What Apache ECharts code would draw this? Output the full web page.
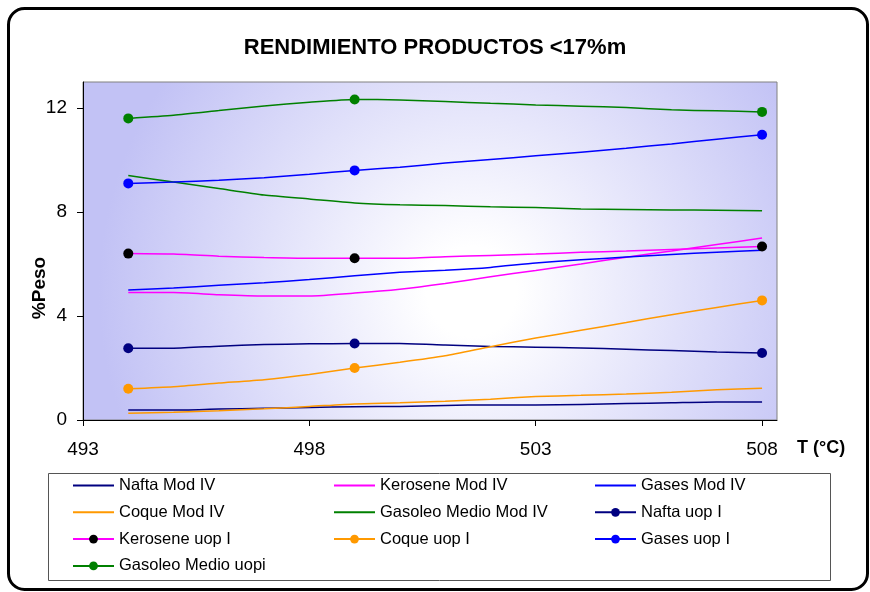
<!DOCTYPE html>
<html>
<head>
<meta charset="utf-8">
<script src="https://cdn.jsdelivr.net/npm/echarts@6/dist/echarts.min.js"></script>
<style>
  html, body { margin: 0; padding: 0; background: #ffffff; }
  #chart { width: 870px; height: 592px; }
</style>
</head>
<body>
<div id="chart"></div>
<script>
// Temperatures (°C) of the sampled points
const temps = [494, 495, 496, 497, 498, 499, 500, 501, 502, 503, 504, 505, 506, 507, 508];
// Temperatures where the uop I series show a marker
const markerTemps = [494, 499, 508];

// Yields (% weight) – Mod IV model
const naftaModIV    = [0.38, 0.38, 0.42, 0.45, 0.48, 0.51, 0.52, 0.56, 0.58, 0.58, 0.60, 0.63, 0.66, 0.69, 0.69];
const keroseneModIV = [4.90, 4.90, 4.82, 4.77, 4.77, 4.88, 5.03, 5.25, 5.51, 5.75, 6.00, 6.26, 6.50, 6.75, 7.00];
const gasesModIV    = [5.00, 5.08, 5.18, 5.28, 5.40, 5.55, 5.68, 5.76, 5.87, 6.04, 6.16, 6.27, 6.37, 6.45, 6.53];
const coqueModIV    = [0.26, 0.30, 0.36, 0.43, 0.52, 0.62, 0.66, 0.72, 0.80, 0.90, 0.95, 1.00, 1.07, 1.16, 1.22];
const gasoleoModIV  = [9.40, 9.15, 8.90, 8.65, 8.50, 8.35, 8.28, 8.25, 8.20, 8.17, 8.12, 8.10, 8.08, 8.07, 8.05];

// Yields (% weight) – uop I model
const naftaUop      = [2.76, 2.76, 2.84, 2.90, 2.93, 2.94, 2.94, 2.88, 2.83, 2.80, 2.77, 2.72, 2.67, 2.62, 2.58];
const keroseneUop   = [6.40, 6.38, 6.30, 6.25, 6.22, 6.22, 6.22, 6.28, 6.33, 6.38, 6.45, 6.50, 6.56, 6.62, 6.67];
const coqueUop      = [1.20, 1.28, 1.42, 1.55, 1.75, 2.00, 2.22, 2.47, 2.82, 3.15, 3.45, 3.75, 4.05, 4.33, 4.60];
const gasesUop      = [9.10, 9.15, 9.22, 9.32, 9.45, 9.60, 9.72, 9.88, 10.02, 10.16, 10.30, 10.45, 10.62, 10.80, 10.97];
const gasoleoUop    = [11.60, 11.72, 11.90, 12.08, 12.22, 12.33, 12.31, 12.25, 12.18, 12.12, 12.07, 12.02, 11.93, 11.89, 11.85];

// Axis ticks
const xTicks = [493, 498, 503, 508];
const yTicks = [0, 4, 8, 12];

const FONT = '"Liberation Sans", Arial, sans-serif';

const pairs = vals => temps.map((t, i) => [t, vals[i]]);

function modSeries(name, vals, color) {
  return {
    name, type: 'line', data: pairs(vals),
    symbol: 'none', smooth: 0.2,
    lineStyle: { color, width: 1.5 },
    itemStyle: { color },
    emphasis: { disabled: true }
  };
}
function uopSeries(name, vals, lineColor, markColor) {
  return {
    name, type: 'line', data: pairs(vals),
    symbol: 'circle', showSymbol: true, showAllSymbol: true,
    symbolSize: v => (markerTemps.indexOf(v[0]) >= 0 ? 10 : 0),
    smooth: 0.2,
    lineStyle: { color: lineColor, width: 1.5 },
    itemStyle: { color: markColor },
    emphasis: { disabled: true }
  };
}

const series = [
  modSeries('Nafta Mod IV', naftaModIV, '#000080'),
  modSeries('Kerosene Mod IV', keroseneModIV, '#FF00FF'),
  modSeries('Gases Mod IV', gasesModIV, '#0000FF'),
  modSeries('Coque Mod IV', coqueModIV, '#FF9900'),
  modSeries('Gasoleo Medio Mod IV', gasoleoModIV, '#008000'),
  uopSeries('Nafta uop I', naftaUop, '#000080', '#000080'),
  uopSeries('Kerosene uop I', keroseneUop, '#FF00FF', '#000000'),
  uopSeries('Coque uop I', coqueUop, '#FF9900', '#FF9900'),
  uopSeries('Gases uop I', gasesUop, '#0000FF', '#0000FF'),
  uopSeries('Gasoleo Medio uopi', gasoleoUop, '#008000', '#008000')
];

// Line-only legend entries have no dot on the sample line
const plainLegend = name => (name.indexOf('Mod IV') >= 0
  ? { name, itemStyle: { color: 'rgba(0,0,0,0)', borderWidth: 0 } }
  : name);

function legendColumn(left, names) {
  return {
    orient: 'vertical', left, top: 477, padding: 0,
    itemWidth: 41, itemHeight: 11, itemGap: 9.8,
    textStyle: { fontFamily: FONT, fontSize: 16.5, color: '#000', lineHeight: 16 },
    data: names.map(plainLegend), selectedMode: false
  };
}

const chart = echarts.init(document.getElementById('chart'), null, { renderer: 'canvas' });
chart.setOption({
  animation: false,
  backgroundColor: '#ffffff',
  title: {
    text: 'RENDIMIENTO PRODUCTOS <17%m',
    left: 'center', top: 32,
    textStyle: { fontFamily: FONT, fontSize: 22, fontWeight: 'bold', color: '#000' }
  },
  grid: {
    left: 83, top: 82, right: 93, bottom: 172,
    show: true, borderColor: '#808080', borderWidth: 1,
    backgroundColor: {
      type: 'radial', x: 0.56, y: 0.62, r: 1.1,
      colorStops: [
        { offset: 0, color: '#FFFFFF' },
        { offset: 0.12, color: '#FFFFFF' },
        { offset: 1, color: '#C2C2F5' }
      ]
    }
  },
  xAxis: {
    type: 'value', min: 493, max: 508.33, interval: 5,
    axisLine: { show: true, lineStyle: { color: '#000', width: 1 } },
    axisTick: { show: true, inside: false, length: 6, customValues: xTicks, lineStyle: { color: '#000', width: 1 } },
    axisLabel: { customValues: xTicks, margin: 20, fontFamily: FONT, fontSize: 19, color: '#000' },
    splitLine: { show: false }
  },
  yAxis: {
    type: 'value', min: 0, max: 13, interval: 4,
    axisLine: { show: true, lineStyle: { color: '#000', width: 1 } },
    axisTick: { show: true, inside: false, length: 6, customValues: yTicks, lineStyle: { color: '#000', width: 1 } },
    axisLabel: { customValues: yTicks, margin: 16, fontFamily: FONT, fontSize: 19, color: '#000' },
    splitLine: { show: false }
  },
  legend: [
    legendColumn(72, ['Nafta Mod IV', 'Coque Mod IV', 'Kerosene uop I', 'Gasoleo Medio uopi']),
    legendColumn(333, ['Kerosene Mod IV', 'Gasoleo Medio Mod IV', 'Coque uop I']),
    legendColumn(594, ['Gases Mod IV', 'Nafta uop I', 'Gases uop I'])
  ],
  graphic: [
    {
      type: 'rect', silent: true, z: -1,
      shape: { x: 8.5, y: 8.5, width: 859, height: 581, r: 16 },
      style: { fill: 'none', stroke: '#000', lineWidth: 3 }
    },
    {
      type: 'rect', silent: true,
      shape: { x: 48.5, y: 473.5, width: 782, height: 107 },
      style: { fill: 'none', stroke: '#555', lineWidth: 1 }
    },
    {
      type: 'text', silent: true, x: 40, y: 288, rotation: Math.PI / 2,
      style: { text: '%Peso', fontFamily: FONT, fontSize: 19, fontWeight: 'bold', fill: '#000',
               align: 'center', verticalAlign: 'middle' }
    },
    {
      type: 'text', silent: true, x: 797, y: 448,
      style: { text: 'T (°C)', fontFamily: FONT, fontSize: 18, fontWeight: 'bold', fill: '#000',
               align: 'left', verticalAlign: 'middle' }
    }
  ],
  series
});
</script>
</body>
</html>
